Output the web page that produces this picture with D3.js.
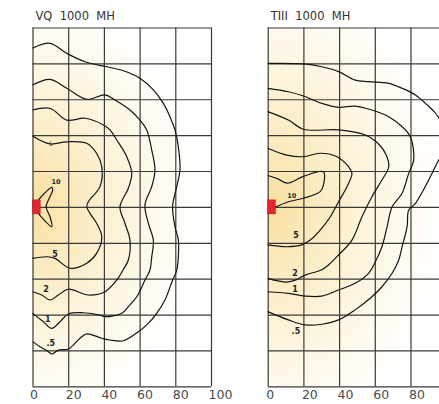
<!DOCTYPE html>
<html>
<head>
<meta charset="utf-8">
<script src="https://cdn.jsdelivr.net/npm/d3@7"></script>
<style>
  html, body { margin: 0; padding: 0; background: #fff; overflow: hidden; }
  svg { display: block; }
</style>
</head>
<body>
<svg id="chart" width="439" height="404"></svg>
<script>
// ---------- data ----------
const panelTitles = ["VQ  1000  MH", "TIII  1000  MH"];
const xTicks = [0, 20, 40, 60, 80, 100];
const yGrid = [-100, -80, -60, -40, -20, 0, 20, 40, 60, 80, 100];

// Left panel (VQ) isolines, [distance, lateral]
const vqLevels = [".5", "1", "2", "5", "10"];
const vqC05 = [[0,88.4],[9.8,91.2],[19.2,85.6],[29.4,80.9],[41.6,78.1],[50.9,75.9],[60.2,71.7],[67.7,65.2],[73.3,57.7],[77.0,50.3],[79.8,42.9],[81.7,33.6],[82.6,20.6],[80.8,11.3],[78.5,0.5],[79.8,-11.0],[81.7,-18.5],[80.8,-35.2],[78.5,-40.7],[74.2,-51.9],[69.6,-59.3],[64.0,-65.8],[59.3,-69.6],[50.9,-74.6],[43.4,-74.2],[38.8,-73.2],[30.4,-70.8],[26.6,-73.2],[20.1,-79.2],[14.5,-79.8],[10.8,-82.0],[8.9,-80.7],[4.2,-77.9],[0,-75.1]];
const vqC1 = [[0,67.9],[9.8,71.1],[19.2,66.1],[30.4,60.0],[40.6,62.4],[46.2,59.6],[54.6,54.0],[60.2,48.4],[64.0,42.9],[66.8,31.7],[68.6,20.6],[66.8,11.3],[63.0,1.1],[64.9,-9.1],[67.7,-18.5],[66.8,-27.8],[65.8,-35.2],[63.0,-40.8],[58.4,-50.1],[53.7,-55.6],[50.0,-59.3],[40.6,-61.2],[37.8,-60.3],[28.5,-59.0],[20.1,-59.7],[15.4,-64.0],[10.8,-67.7],[6.1,-64.0],[0,-59.3]];
const vqC2 = [[0,54.0],[9.8,55.0],[19.2,48.4],[29.4,49.4],[39.7,45.7],[43.4,42.9],[47.2,37.3],[52.8,28.0],[55.6,18.7],[53.7,10.4],[49.0,0.1],[51.8,-9.1],[54.6,-18.5],[53.7,-29.6],[50.7,-35.2],[47.2,-40.8],[40.6,-47.3],[31.3,-49.1],[20.1,-45.9],[14.5,-49.1],[9.8,-51.9],[5.2,-49.1],[0,-47.3]];
const vqC5 = [[0,39.5],[9.8,35.1],[19.2,36.3],[30.4,35.5],[35.9,29.9],[38.8,22.4],[37.8,11.3],[31.3,2.9],[30.4,0.1],[32.2,-3.6],[35.9,-9.1],[38.8,-16.6],[35.9,-25.9],[30.4,-31.4],[21.0,-34.2],[12.6,-28.7],[8.0,-27.8],[0,-28.7]];
const vqC10 = [[2.4,2.9],[10.8,10.9],[11.3,9.4],[8.9,3.8],[7.6,0.1],[9.8,-5.5],[10.8,-11.0],[3.2,-3.6]];
const vqLabelPos = [[10.2,-76.0],[8.5,-63.0],[7.6,-46.0],[12.6,-26.3],[13.2,13.5]];
const vqExtraLabel = [[10.2,35.0]];

// Right panel (TIII) isolines
const tLevels = [".5", "1", "2", "5", "10"];
const tC05 = [[0,80.0],[20.0,79.7],[30.3,78.1],[39.7,75.4],[49.0,70.7],[56.5,69.8],[67.8,68.9],[75.3,66.1],[82.8,62.4],[88.4,57.7],[94.0,52.2],[97.9,45.7],[100.2,36.2],[98.5,30.6],[95.8,26.1],[90.2,15.0],[82.8,2.0],[79.0,-1.7],[78.1,-11.0],[75.3,-22.2],[73.4,-29.6],[69.7,-37.0],[64.0,-44.5],[58.4,-50.1],[49.0,-57.4],[39.7,-63.0],[30.3,-65.4],[21.0,-65.8],[11.6,-63.0],[0,-58.4]];
const tC1 = [[0,66.1],[11.6,64.2],[20.0,61.8],[30.3,57.7],[39.7,55.5],[49.0,56.2],[58.4,54.0],[67.8,50.3],[75.3,44.7],[79.9,39.1],[81.8,26.1],[79.0,18.7],[75.3,7.6],[69.7,0.1],[66.9,-11.0],[64.0,-22.2],[60.3,-30.6],[56.5,-37.0],[49.0,-42.6],[39.7,-46.3],[30.3,-49.7],[21.0,-49.7],[11.6,-48.2],[0,-47.3]];
const tC2 = [[0,53.1],[11.6,48.4],[20.0,43.3],[39.7,42.9],[54.7,40.1],[60.3,36.7],[65.9,29.9],[67.8,22.4],[64.0,15.0],[58.4,5.7],[52.8,-5.5],[47.2,-18.5],[39.7,-26.8],[34.0,-32.4],[30.0,-35.2],[21.0,-38.0],[15.9,-40.7],[10.7,-41.9],[0,-39.8]];
const tC5 = [[0,32.7],[10.7,28.9],[20.0,28.0],[29.4,29.9],[38.8,28.0],[45.3,22.4],[47.2,18.7],[44.4,11.3],[39.7,2.9],[35.1,-5.5],[29.4,-12.9],[23.8,-18.5],[19.1,-21.2],[10.7,-22.2],[0,-21.2]];
const tC10 = [[4.1,-0.2],[11.6,2.9],[20.0,4.8],[29.4,8.5],[31.2,12.2],[31.2,19.6],[20.0,17.0],[11.0,13.2],[6.0,15.5],[0,17.5]];
const tLabelPos = [[15.8,-69.6],[15.3,-46.3],[15.3,-37.0],[15.9,-16.2],[13.5,5.7]];

// ---------- drawing ----------
const W = 439;
const svg = d3.select("#chart");
const plotTop = 27.5, plotBottom = 386.3, pw = 178.5;
const y = d3.scaleLinear().domain([-100, 100]).range([plotBottom, plotTop]);

const defs = svg.append("defs");
const grad = defs.append("radialGradient").attr("id", "glow");
[[0, "#f9e0a0"], [0.25, "#fbeabd"], [0.55, "#fdf4dc"], [0.8, "#fffbf2"], [1, "#ffffff"]]
  .forEach(([o, c]) => grad.append("stop").attr("offset", o).attr("stop-color", c));

const panels = [
  { x0: 32.5, title: panelTitles[0], contours: [vqC05, vqC1, vqC2, vqC5, vqC10], levels: vqLevels, labels: vqLabelPos, extra: vqExtraLabel, tickDx: -3, rx: 165, ry: 215 },
  { x0: 267.7, title: panelTitles[1], contours: [tC05, tC1, tC2, tC5, tC10], levels: tLevels, labels: tLabelPos, extra: [], tickDx: -2, rx: 175, ry: 240 }
];

panels.forEach((p, i) => {
  const x = d3.scaleLinear().domain([0, 100]).range([p.x0, p.x0 + pw]);
  const g = svg.append("g");
  const clipId = "clip" + i;
  defs.append("clipPath").attr("id", clipId).append("rect")
    .attr("x", x(0)).attr("y", y(100)).attr("width", x(100) - x(0)).attr("height", y(-100) - y(100));

  // background glow
  g.append("ellipse").attr("clip-path", `url(#${clipId})`)
    .attr("cx", x(0) + 2).attr("cy", y(0)).attr("rx", p.rx).attr("ry", p.ry)
    .attr("fill", "url(#glow)");

  // vertical grid + tick labels (labels only where they fit in the window)
  const visibleTicks = xTicks.filter(d => x(d) + 10 < W);
  const ax = d3.axisBottom(x).tickValues(xTicks).tickSize(-(plotBottom - plotTop)).tickPadding(4)
    .tickFormat(d => visibleTicks.includes(d) ? d3.format("d")(d) : "");
  const axg = g.append("g").attr("transform", `translate(0,${plotBottom})`).call(ax);
  axg.select(".domain").remove();
  axg.selectAll(".tick line").attr("stroke", "#3a3a3a").attr("stroke-width", 1.2);
  axg.selectAll(".tick text")
    .attr("text-anchor", "start").attr("dx", p.tickDx).attr("y", 4)
    .attr("fill", "#4a4a4a").style("font-family", "DejaVu Sans, sans-serif").style("font-size", "12.5px");

  // horizontal grid
  const ay = d3.axisLeft(y).tickValues(yGrid).tickSize(-(x(100) - x(0))).tickFormat("");
  const ayg = g.append("g").attr("transform", `translate(${x(0)},0)`).call(ay);
  ayg.select(".domain").remove();
  ayg.selectAll(".tick line").attr("stroke", "#3a3a3a").attr("stroke-width", 1.2);

  // contours
  const line = d3.line().x(d => x(d[0])).y(d => y(d[1])).curve(d3.curveCatmullRom.alpha(0.5));
  p.contours.forEach(c => {
    g.append("path").attr("d", line(c)).attr("fill", "none")
      .attr("stroke", "#151515").attr("stroke-width", 1.2).attr("stroke-linejoin", "round");
  });

  // contour labels
  p.labels.forEach((pos, k) => {
    g.append("text").attr("x", x(pos[0])).attr("y", y(pos[1]))
      .attr("text-anchor", "middle").attr("dominant-baseline", "middle")
      .attr("fill", "#222").style("font-family", "DejaVu Sans, sans-serif")
      .style("font-size", p.levels[k] === "10" ? "6.5px" : "8px").style("font-weight", "bold")
      .text(p.levels[k]);
  });
  p.extra.forEach(pos => {
    g.append("text").attr("x", x(pos[0])).attr("y", y(pos[1]))
      .attr("text-anchor", "middle").attr("dominant-baseline", "middle")
      .attr("fill", "#444").style("font-family", "DejaVu Sans, sans-serif")
      .style("font-size", "6px").text("1");
  });

  // source marker
  g.append("rect").attr("x", x(0)).attr("y", y(3.9))
    .attr("width", x(4.3) - x(0)).attr("height", y(-3.9) - y(3.9))
    .attr("fill", "#e32630").attr("stroke", "#b0151d").attr("stroke-width", 0.5);

  // title
  g.append("text").attr("x", x(0) + 3).attr("y", 19.5)
    .attr("fill", "#333").style("font-family", "DejaVu Sans, sans-serif").style("font-size", "11.5px")
    .style("white-space", "pre").attr("xml:space", "preserve").text(p.title);
});
</script>
</body>
</html>
